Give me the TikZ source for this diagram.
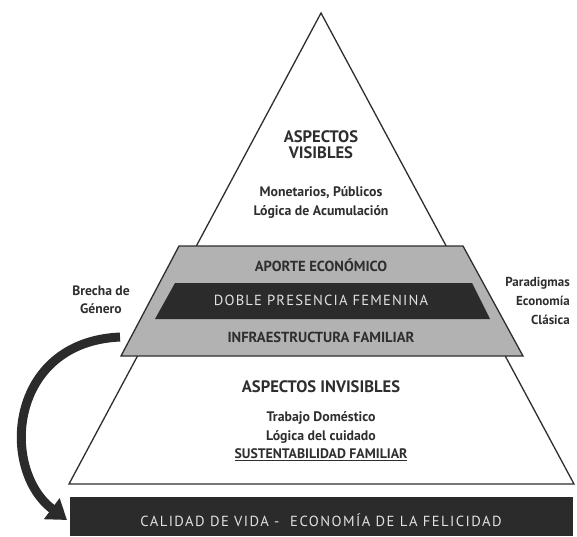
\documentclass[tikz,border=0pt]{standalone}
\usepackage{fontspec}
\setmainfont{PT Sans}
\usetikzlibrary{arrows.meta}
\definecolor{ink}{HTML}{2E2E2E}
\definecolor{band}{HTML}{B2B2B2}
\definecolor{darkband}{HTML}{2B2B2B}
\definecolor{lighttext}{HTML}{E2E2E2}
\begin{document}
\begin{tikzpicture}[x=1pt,y=-1pt,
  outline/.style={draw=ink, line width=1.3pt, line join=miter},
  lbl/.style={text=ink, inner sep=0pt, align=center, font=\bfseries\fontsize{13.8}{19}\selectfont},
  head/.style={text=ink, inner sep=0pt, align=center, font=\bfseries\fontsize{16.6}{16}\selectfont},
  caps/.style={text=ink, inner sep=0pt, font=\bfseries\fontsize{14.6}{15}\selectfont},
  spaced/.style={text=lighttext, inner sep=0pt, font=\fontsize{14.6}{15}\selectfont\addfontfeature{LetterSpace=8}},
  bigarrow/.style={line width=9pt, draw=darkband, -{Triangle[length=19pt,width=25pt]}}]
\useasboundingbox (0,0) rectangle (577,536);
% main triangle
\coordinate (apex) at (321,13);
\coordinate (bl) at (69,484);
\coordinate (br) at (574,484);
\draw[outline, fill=white] (apex) -- (br) -- (bl) -- cycle;
% grey band
\draw[outline, fill=band] (179,246) -- (463,246) -- (523,356) -- (121,356) -- cycle;
% dark band
\fill[darkband] (175,283) -- (472,283) -- (490,319) -- (155,319) -- cycle;
% bottom box
\fill[darkband] (70,497) rectangle (573,536);
% texts
\node[head] (vis) at (321,145) {ASPECTOS\\VISIBLES};
\node[lbl] (mon) at (321,202) {Monetarios, Públicos\\Lógica de Acumulación};
\node[caps] (aporte) at (321,265) {APORTE ECONÓMICO};
\node[spaced] (doble) at (321,300) {DOBLE PRESENCIA FEMENINA};
\node[caps] (infra) at (321,337) {INFRAESTRUCTURA FAMILIAR};
\node[head] (invis) at (321,387) {ASPECTOS INVISIBLES};
\node[lbl] (trab) at (321,427) {Trabajo Doméstico\\Lógica del cuidado};
\node[lbl] (sust) at (321,455) {\underline{SUSTENTABILIDAD FAMILIAR}};
\node[spaced, font=\fontsize{14.6}{15}\selectfont\addfontfeature{LetterSpace=10}] (calidad) at (321,520) {CALIDAD DE VIDA -\ \ ECONOMÍA DE LA FELICIDAD};
\node[lbl, font=\bfseries\fontsize{13.6}{18}\selectfont] (brecha) at (101,300) {Brecha de\\Género};
\node[lbl, align=right, anchor=east, font=\bfseries\fontsize{13}{19}\selectfont] (parad) at (570,301) {Paradigmas\\Economía\\Clásica};
% curved arrow
\coordinate (astart) at (120,337);
\coordinate (aend) at (67,520);
\draw[bigarrow] (astart) .. controls (8,342) and (0,470) .. (aend);
\end{tikzpicture}
\end{document}
